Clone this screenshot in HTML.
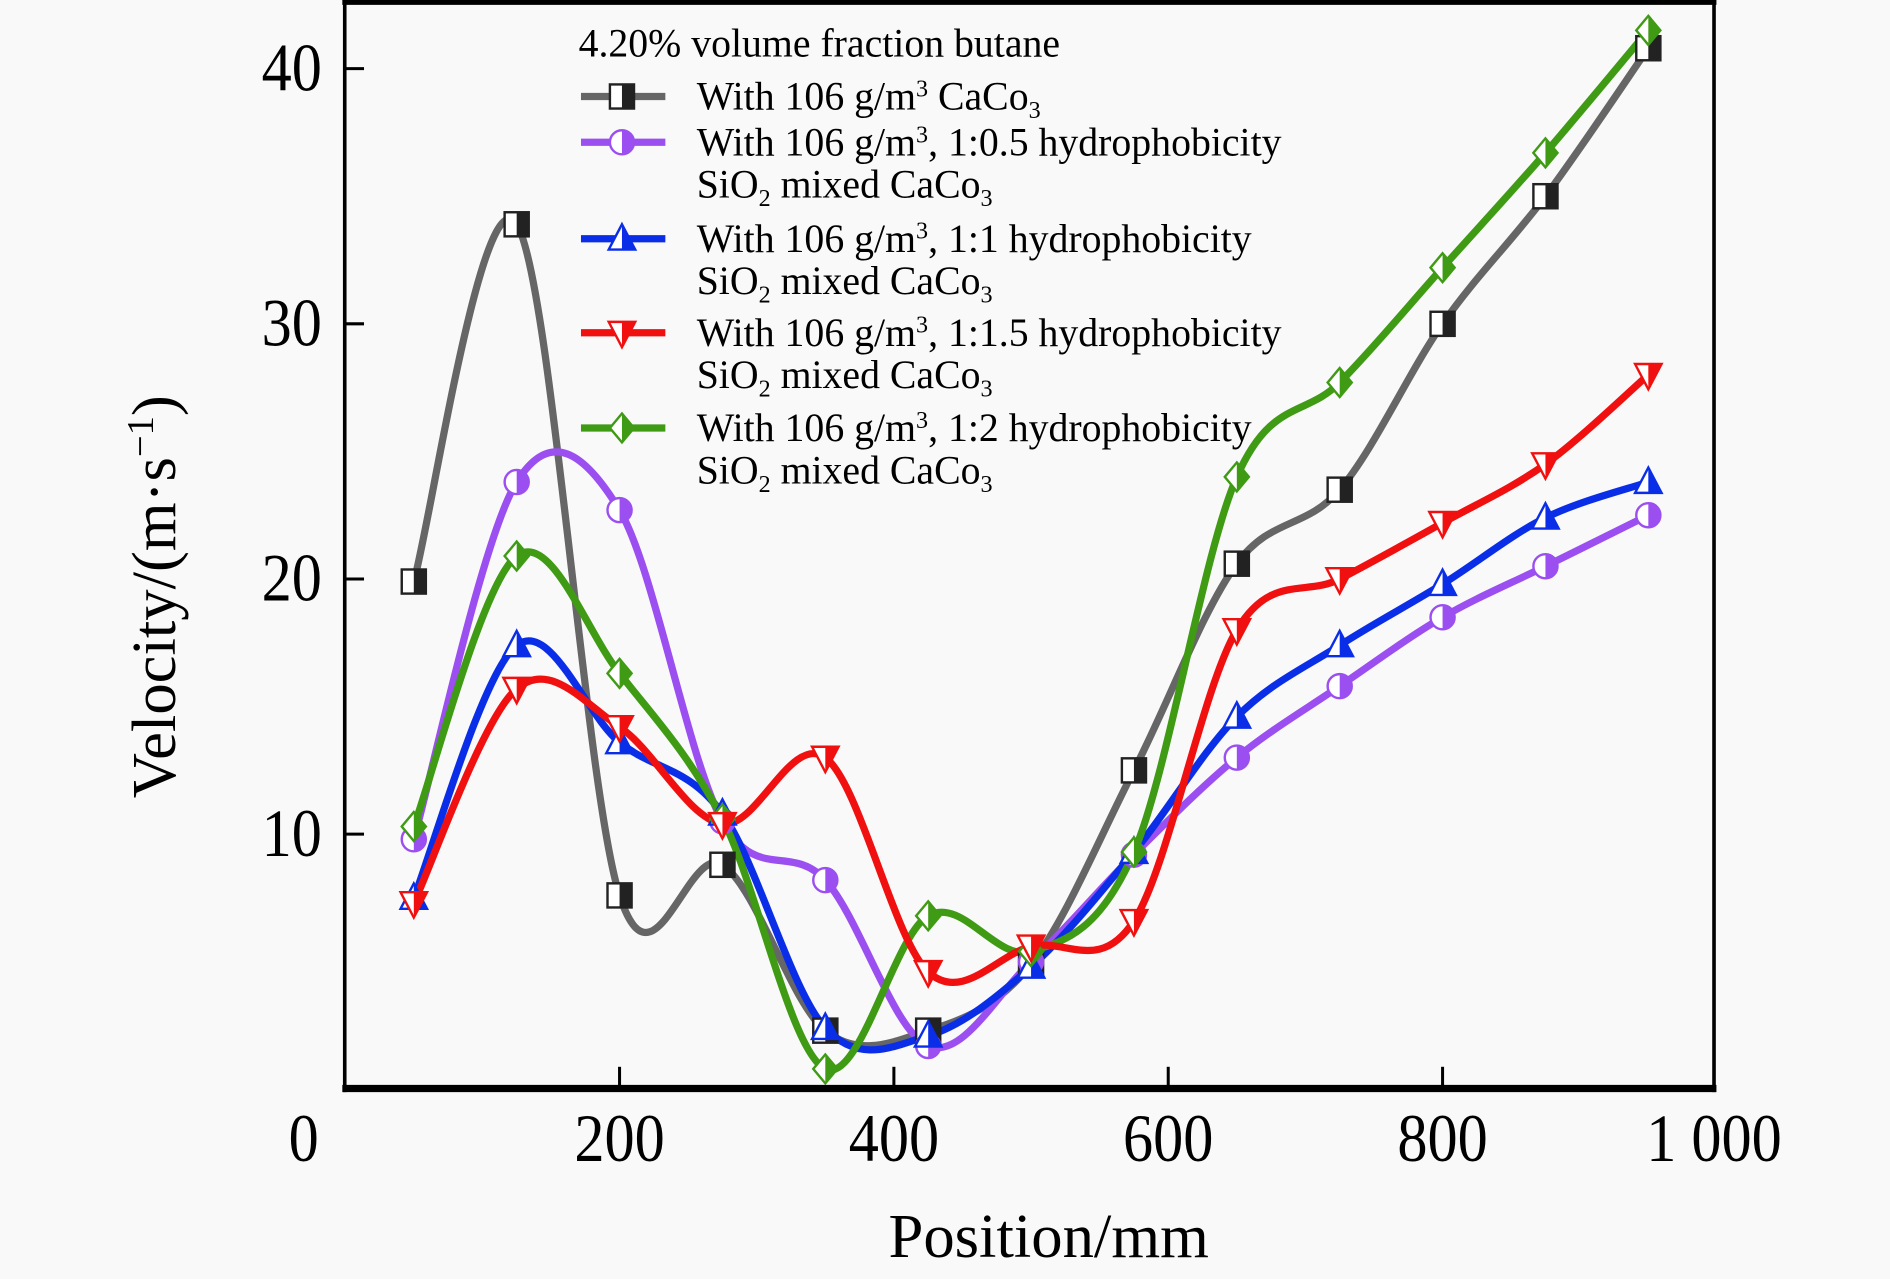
<!DOCTYPE html>
<html><head><meta charset="utf-8"><style>
html,body{margin:0;padding:0;background:#f9f9f9;}
svg{display:block;font-family:"Liberation Serif",serif;}
</style></head><body>
<svg id="chart" width="1890" height="1279" viewBox="0 0 1568 1061" xmlns="http://www.w3.org/2000/svg">
<rect x="0" y="0" width="1568" height="1061" fill="#f9f9f9"/>
<g id="plot"></g>
<g id="axes"></g>
<g id="legend"></g>
</svg>
<script>
const positions = [50,125,200,275,350,425,500,575,650,725,800,875,950];
const grayVals   = [19.9,33.9,7.6,8.8,2.3,2.3,4.9,12.5,20.6,23.5,30,35,40.8];
const purpleVals = [9.8,23.8,22.7,10.5,8.2,1.7,5,9.2,13,15.8,18.5,20.5,22.5];
const blueVals   = [7.5,17.4,13.6,10.8,2.4,2.1,4.8,9.3,14.6,17.4,19.8,22.4,23.8];
const redVals    = [7.3,15.7,14.2,10.4,13,4.6,5.6,6.6,18,20,22.2,24.5,28];
const greenVals  = [10.3,20.9,16.3,10.6,0.8,6.8,5.4,9.3,24,27.7,32.2,36.7,41.5];
const xTickLabels = ["0","200","400","600","800","1 000"];
const xTickVals = [0,200,400,600,800,1000];
const yTickVals = [10,20,30,40];

const NS="http://www.w3.org/2000/svg";
function X(v){return 514+(v-200)*1.138;}
function Y(v){return 903.7-v*21.17;}
function mk(tag,attrs,parent){const e=document.createElementNS(NS,tag);for(const k in attrs)e.setAttribute(k,attrs[k]);parent.appendChild(e);return e;}
const plot=document.getElementById('plot'),axes=document.getElementById('axes'),legend=document.getElementById('legend');

function smoothPath(pts){
  let d=`M${pts[0][0]},${pts[0][1]}`;
  for(let i=0;i<pts.length-1;i++){
    const p0=pts[Math.max(0,i-1)],p1=pts[i],p2=pts[i+1],p3=pts[Math.min(pts.length-1,i+2)];
    const c1=[p1[0]+(p2[0]-p0[0])/6,p1[1]+(p2[1]-p0[1])/6];
    const c2=[p2[0]-(p3[0]-p1[0])/6,p2[1]-(p3[1]-p1[1])/6];
    d+=` C${c1[0]},${c1[1]} ${c2[0]},${c2[1]} ${p2[0]},${p2[1]}`;
  }
  return d;
}
function marker(type,cx,cy,color,parent){
  const g=mk('g',{},parent);
  const s=10;
  if(type==='square'){
    mk('rect',{x:cx-s,y:cy-s,width:2*s,height:2*s,fill:'#fff',stroke:'#222','stroke-width':2},g);
    mk('rect',{x:cx,y:cy-s,width:s,height:2*s,fill:'#222'},g);
  }else if(type==='circle'){
    mk('circle',{cx:cx,cy:cy,r:s,fill:'#fff',stroke:color,'stroke-width':2},g);
    mk('path',{d:`M${cx},${cy-s} A${s},${s} 0 0 1 ${cx},${cy+s} Z`,fill:color},g);
  }else if(type==='up'){
    mk('path',{d:`M${cx},${cy-s-2} L${cx+s+1},${cy+s-1} L${cx-s-1},${cy+s-1} Z`,fill:'#fff',stroke:color,'stroke-width':2},g);
    mk('path',{d:`M${cx},${cy-s-2} L${cx+s+1},${cy+s-1} L${cx},${cy+s-1} Z`,fill:color},g);
  }else if(type==='down'){
    mk('path',{d:`M${cx},${cy+s+2} L${cx+s+1},${cy-s+1} L${cx-s-1},${cy-s+1} Z`,fill:'#fff',stroke:color,'stroke-width':2},g);
    mk('path',{d:`M${cx},${cy+s+2} L${cx+s+1},${cy-s+1} L${cx},${cy-s+1} Z`,fill:color},g);
  }else{
    mk('path',{d:`M${cx},${cy-s-2} L${cx+s},${cy} L${cx},${cy+s+2} L${cx-s},${cy} Z`,fill:'#fff',stroke:color,'stroke-width':2},g);
    mk('path',{d:`M${cx},${cy-s-2} L${cx+s},${cy} L${cx},${cy+s+2} Z`,fill:color},g);
  }
  return g;
}
const series=[
  {name:'gray',vals:grayVals,color:'#666666',m:'square'},
  {name:'purple',vals:purpleVals,color:'#9b4ff0',m:'circle'},
  {name:'blue',vals:blueVals,color:'#0a2ee8',m:'up'},
  {name:'green',vals:greenVals,color:'#3f9a14',m:'diamond'},
  {name:'red',vals:redVals,color:'#f01010',m:'down'}
];
series.forEach(s=>{
  const pts=positions.map((p,i)=>[X(p),Y(s.vals[i])]);
  const path=mk('path',{d:smoothPath(pts),fill:'none',stroke:s.color,'stroke-width':6,'stroke-linejoin':'round'},plot);
  
  
});
series.forEach(s=>{
  positions.forEach((p,i)=>{
    const g=marker(s.m,X(p),Y(s.vals[i]),s.m==='square'?'#222':s.color,plot);
    
    
  });
});

mk('line',{x1:286,y1:0,x2:286,y2:906,stroke:'#000','stroke-width':3},axes);
mk('line',{x1:1422,y1:0,x2:1422,y2:906,stroke:'#000','stroke-width':3},axes);
mk('line',{x1:284,y1:2,x2:1424,y2:2,stroke:'#000','stroke-width':4},axes);
mk('line',{x1:284,y1:903,x2:1424,y2:903,stroke:'#000','stroke-width':6},axes);
xTickVals.forEach((v,i)=>{
  if(v>0&&v<1000){
    const t=mk('line',{x1:X(v),y1:903,x2:X(v),y2:885,stroke:'#000','stroke-width':2.5},axes);
    
    
  }
  const lx = v===0?252:(v===1000?1422:X(v));
  const tx=mk('text',{x:lx,y:963,'font-size':50,'text-anchor':'middle',fill:'#000',transform:`translate(${lx},963) scale(1,1.12) translate(${-lx},-963)`},axes);
  tx.textContent=xTickLabels[i];
  
  
});
yTickVals.forEach(v=>{
  const t=mk('line',{x1:286,y1:Y(v),x2:302,y2:Y(v),stroke:'#000','stroke-width':2.5},axes);
  
  
  const ty=Y(v)+18;
  const tx=mk('text',{x:267,y:ty,'font-size':50,'text-anchor':'end',fill:'#000',transform:`translate(267,${ty}) scale(1,1.12) translate(-267,${-ty})`},axes);
  tx.textContent=String(v);
  
  
});

const xt=mk('text',{x:870,y:1043,'font-size':52,'text-anchor':'middle',fill:'#000'},axes);
xt.textContent='Position/mm';


const yt=mk('text',{x:0,y:0,'font-size':52,'text-anchor':'middle',fill:'#000',transform:'translate(145,495) rotate(-90)'},axes);
yt.innerHTML='Velocity/(m·s<tspan dy="-18" font-size="32">−1</tspan><tspan dy="18">)</tspan>';



const title=mk('text',{x:480,y:47,'font-size':33,fill:'#000'},legend);
title.textContent='4.20% volume fraction butane';


const legendYs=[80,118,198,276,355];
const ratios=[null,'1:0.5','1:1','1:1.5','1:2'];
const legendOrder=[0,1,2,4,3];
const sub='SiO<tspan dy="7" font-size="20">2</tspan><tspan dy="-7"> mixed CaCo</tspan><tspan dy="7" font-size="20">3</tspan>';
legendOrder.forEach((si,i)=>{
  const s=series[si];
  const ly=legendYs[i];
  const g=mk('g',{},legend);
  
  
  mk('line',{x1:482,y1:ly,x2:552,y2:ly,stroke:s.color,'stroke-width':6},g);
  marker(s.m,516,ly,s.m==='square'?'#222':s.color,g);
  const t=mk('text',{x:578,y:ly+11,'font-size':33,fill:'#000'},g);
  if(i===0){t.innerHTML='With 106 g/m<tspan dy="-11" font-size="20">3</tspan><tspan dy="11"> CaCo</tspan><tspan dy="7" font-size="20">3</tspan>';}
  else{
    t.innerHTML='With 106 g/m<tspan dy="-11" font-size="20">3</tspan><tspan dy="11">, '+ratios[i]+' hydrophobicity</tspan>';
    const t2=mk('text',{x:578,y:ly+46,'font-size':33,fill:'#000'},g);
    t2.innerHTML=sub;
  }
});
</script>
</body></html>
